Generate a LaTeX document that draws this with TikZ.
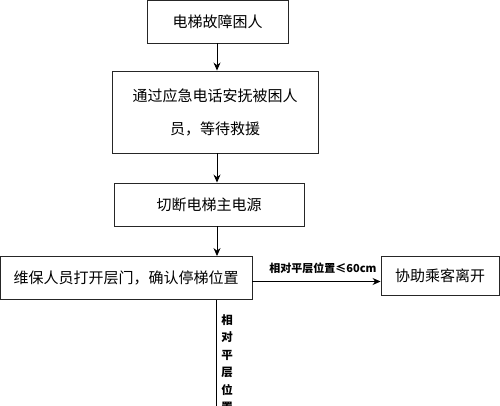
\documentclass[tikz,border=0pt]{standalone}
\usepackage{fontspec}
\setmainfont{Noto Sans CJK SC}
\usetikzlibrary{arrows.meta}
\tikzset{
  box/.style={draw=black!85, line width=0.9pt, rectangle, inner sep=0pt, align=center,
    font=\fontsize{15}{33}\selectfont},
  arr/.style={draw=black, line width=0.9pt, -{Stealth[length=8pt,width=7pt]}},
  lbl/.style={font=\bfseries\fontsize{11}{17}\selectfont, inner sep=0pt, align=center},
  vlbl/.style={font=\bfseries\fontsize{11.5}{17.5}\selectfont, inner sep=0pt, align=center}
}
\begin{document}
\begin{tikzpicture}[x=1pt,y=-1pt]
\useasboundingbox (0,0) rectangle (500,406);
\clip (0,0) rectangle (500,406);
\fill[white] (0,0) rectangle (500,406);
\node[box, minimum width=141pt, minimum height=43pt] (b1) at (217.5,21.5) {电梯故障困人};
\node[box, minimum width=206pt, minimum height=82pt] (b2) at (215,112) {通过应急电话安抚被困人\\员，等待救援};
\node[box, minimum width=190pt, minimum height=43pt] (b3) at (209,204.5) {切断电梯主电源};
\node[box, minimum width=252pt, minimum height=43pt] (b4) at (126,278) {维保人员打开层门，确认停梯位置};
\node[box, minimum width=118pt, minimum height=39pt] (b5) at (440,275.5) {协助乘客离开};
\coordinate (c1) at (217,0);
\coordinate (hy) at (0,281.5);
\coordinate (vend) at (216,420);
\draw[arr] (b1.south -| c1) -- (b2.north -| c1);
\draw[arr] (b2.south -| c1) -- (b3.north -| c1);
\draw[arr] (b3.south -| c1) -- (b4.north -| c1);
\draw[arr] (b4.east |- hy) -- (b5.west |- hy);
\draw[line width=0.9pt] (b4.south -| vend) -- (vend);
\node[lbl] (l1) at (323,268) {相对平层位置≤60cm};
\node[vlbl, anchor=north] (l2) at (227,314) {相\\对\\平\\层\\位\\置};
\end{tikzpicture}
\end{document}
